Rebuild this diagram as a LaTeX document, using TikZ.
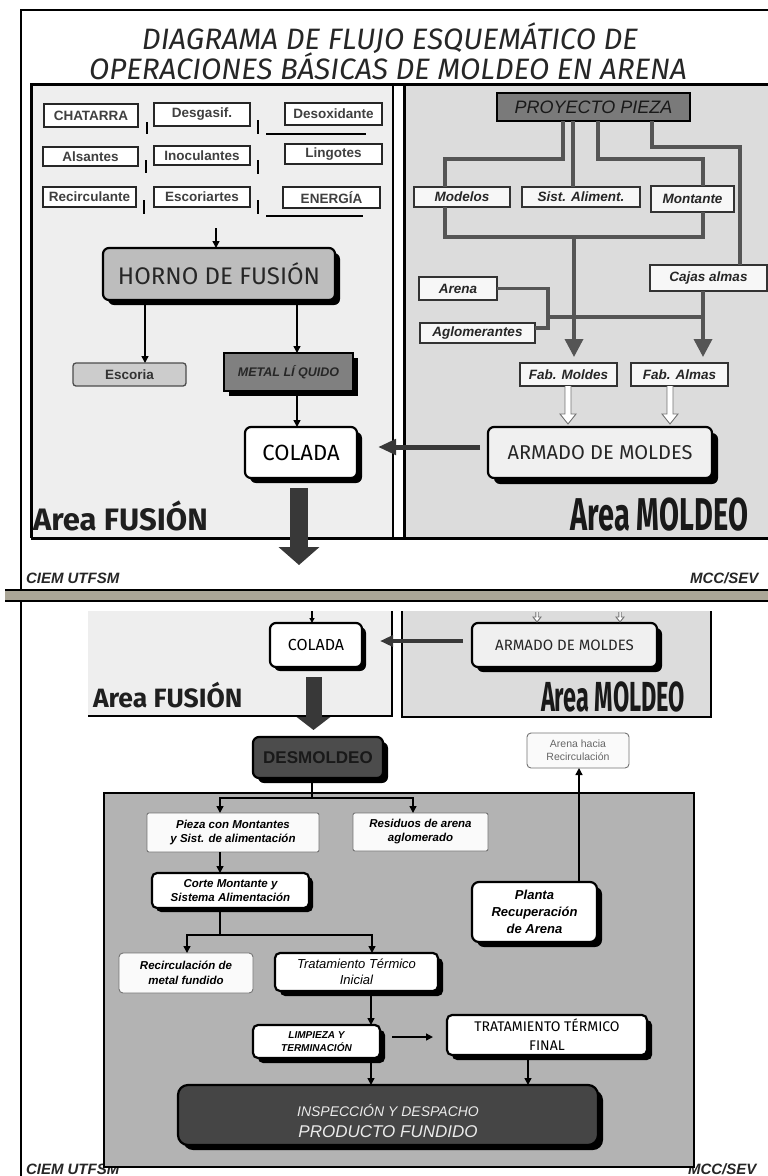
\documentclass[tikz,border=0pt]{standalone}
\usepackage{fontspec}
\usepackage{graphicx}
\setmainfont{Liberation Sans}
\newfontfamily\comic{Fira Sans}
\usetikzlibrary{arrows.meta,shadows,calc}
\definecolor{panelL}{HTML}{EEEEEE}
\definecolor{panelR}{HTML}{DCDCDC}
\definecolor{connc}{HTML}{555555}
\definecolor{bigp}{HTML}{B3B3B3}
\definecolor{bandc}{HTML}{ABA697}
\newcommand{\fsz}[2]{\fontsize{#1}{#2}\selectfont}
\newcommand{\hollowdown}[5]{\draw[hollowst] ($(#1)+(-#3,0)$) -- ($(#2)+(-#3,-#5)$) -- ($(#2)+(-#4,-#5)$) -- (#2) -- ($(#2)+(#4,-#5)$) -- ($(#2)+(#3,-#5)$) -- ($(#1)+(#3,0)$);}
\tikzset{
 every node/.style={inner sep=0pt, outer sep=0pt},
 sbox/.style={draw=black!85, line width=1.3pt, fill=white, font=\bfseries\fsz{13.5}{15}, text=black!75},
 ibox/.style={draw=black!80, line width=1.3pt, fill=black!3, font=\bfseries\itshape\fsz{13.5}{15}, text=black!85},
 shad/.style={drop shadow={shadow xshift=#1, shadow yshift=-#1, fill=black, opacity=1}},
 rbox/.style={rounded corners=6pt, draw=black, line width=2.2pt},
 arr/.style={line width=1.4pt, -{Triangle[width=7pt,length=7pt]}},
 conn/.style={draw=connc, line width=3.5pt},
 connarr/.style={draw=connc, line width=3.5pt, -{Triangle[width=18pt,length=18pt]}, shorten >=6pt},
 thinbox/.style={draw=black!55, line width=0.9pt, fill=black!2, rounded corners=2pt},
 hollowst/.style={draw=black!55, line width=0.9pt, fill=white},
 bigarr/.style={draw=black!78, line width=18pt, -{Triangle[width=40pt,length=18pt]}},
 thickarr/.style={draw=black!78, line width=5pt, -{Triangle[width=15pt,length=18pt]}},
 foot/.style={font=\bfseries\itshape\fsz{15}{15}, text=black!85},
 ttl/.style={font=\comic\itshape\fsz{29.5}{30}, text=black!85},
}
\begin{document}
\begin{tikzpicture}[x=1pt,y=-1pt]
\useasboundingbox (0,0) rectangle (768,1176);
\fill[white] (0,0) rectangle (768,1176);
% ===== top slide =====
\draw[line width=1.5pt] (21,590) -- (21,10) -- (768,10);
\node[ttl] (t1) at (390,38) {DIAGRAMA DE FLUJO ESQUEMÁTICO DE};
\node[ttl] (t2) at (388,66) {OPERACIONES BÁSICAS DE MOLDEO EN ARENA};
\fill[panelL] (31,84) rectangle (393,538);
\fill[panelR] (404,84) rectangle (768,538);
\draw[line width=3pt] (31,538) -- (31,84) -- (768,84);
\draw[line width=3pt] (31,538) -- (768,538);
\draw[line width=2pt] (393,84) -- (393,538);
\draw[line width=3pt] (404,84) -- (404,538);
% inputs
\node[sbox, minimum width=94pt, minimum height=23pt] (chat) at (91,115.5) {CHATARRA};
\node[sbox, minimum width=96pt, minimum height=23pt] (desg) at (202,114.5) {Desgasif.};
\node[sbox, minimum width=97pt, minimum height=22pt] (deso) at (333.5,114) {Desoxidante};
\node[sbox, minimum width=95pt, minimum height=19pt] (alsa) at (90.5,156.5) {Alsantes};
\node[sbox, minimum width=96pt, minimum height=19pt] (inoc) at (202,155.5) {Inoculantes};
\node[sbox, minimum width=97pt, minimum height=20pt] (ling) at (333.5,154) {Lingotes};
\node[sbox, minimum width=93pt, minimum height=20pt] (reci) at (89.5,197) {Recirculante};
\node[sbox, minimum width=96pt, minimum height=20pt] (escr) at (202,197) {Escoriartes};
\node[sbox, minimum width=97pt, minimum height=21pt] (ener) at (331.5,197.5) {ENERGÍA};
\draw[line width=2pt] (147,122) -- (147,134);
\draw[line width=2pt] (258,120) -- (258,134);
\draw[line width=2.2pt] (266,134) -- (366,134);
\draw[line width=2pt] (146,160) -- (146,173);
\draw[line width=2pt] (258,160) -- (258,174);
\draw[line width=2pt] (144,200) -- (144,214);
\draw[line width=2pt] (258,200) -- (258,214);
\draw[line width=2pt] (266,216) -- (363,216);
% furnace
\node[rbox, shad=5pt, fill=black!26, minimum width=232pt, minimum height=52pt, font=\comic\fsz{24}{24}, text=black!85] (horno) at (219,274) {HORNO DE FUSIÓN};
\coordinate (hin) at (216,228);
\draw[arr] (hin) -- (horno.north -| hin);
\node[draw=black!70, line width=1.3pt, fill=black!20, rounded corners=3pt, minimum width=113pt, minimum height=23pt, font=\bfseries\fsz{13.5}{14}, text=black!80] (esc) at (129.5,374.5) {Escoria};
\node[draw=black, line width=1.5pt, fill=black!50, shad=5pt, minimum width=129pt, minimum height=38pt, font=\bfseries\itshape\fsz{12.5}{13}, text=black!85] (metal) at (288.5,372) {METAL LÍ QUIDO};
\node[rbox, shad=5pt, fill=white, minimum width=112pt, minimum height=51pt, font=\comic\fsz{22}{22}] (colada) at (301,452.5) {COLADA};
\draw[arr] (horno.south -| 145,0) -- (esc.north -| 145,0);
\draw[arr] (horno.south -| 297,0) -- (metal.north -| 297,0);
\draw[arr] (metal.south -| 297,0) -- (colada.north -| 297,0);
\coordinate (bt1) at (299,565);
\draw[bigarr] ($(colada.south -| bt1)+(0,10)$) -- (bt1);
\node[anchor=west, font=\comic\bfseries\fsz{31}{31}, text=black!88] (afus) at (33,516) {Area FUSIÓN};
% moulding area
\node[draw=black, line width=1.5pt, fill=black!52, minimum width=193pt, minimum height=28pt, font=\itshape\fsz{18}{18}, text=black!90] (pp) at (593.5,107) {PROYECTO PIEZA};
\node[ibox, minimum width=96pt, minimum height=20pt] (mod) at (462,197) {Modelos};
\node[ibox, minimum width=118pt, minimum height=20pt] (sis) at (581,197) {Sist. Aliment.};
\node[ibox, minimum width=83pt, minimum height=26pt] (mon) at (692.5,199) {Montante};
\node[ibox, minimum width=117pt, minimum height=26pt] (caj) at (708.5,278) {Cajas almas};
\node[ibox, minimum width=78pt, minimum height=23pt] (are) at (458,288.5) {Arena};
\node[ibox, minimum width=115pt, minimum height=20pt] (agl) at (477.5,333) {Aglomerantes};
\node[ibox, minimum width=97pt, minimum height=23pt] (fm) at (568.5,374.5) {Fab. Moldes};
\node[ibox, minimum width=97pt, minimum height=23pt] (fa) at (679.5,374.5) {Fab. Almas};
\node[rbox, shad=6pt, fill=black!6, minimum width=224pt, minimum height=51pt, font=\comic\fsz{20}{20}, text=black!85] (arm) at (600,452.5) {ARMADO DE MOLDES};
\draw[conn] (pp.south -| 563,0) |- (445,159) -- (mod.north -| 445,0);
\draw[conn] (pp.south -| 573,0) -- (sis.north -| 573,0);
\draw[conn] (pp.south -| 598,0) |- (703,159) -- (mon.north -| 703,0);
\draw[conn] (pp.south -| 652,0) |- (740,147) -- (caj.north -| 740,0);
\draw[conn] (mod.south -| 445,0) -- (445,237) -- (703,237) -- (mon.south -| 703,0);
\coordinate (jm) at (574,237);
\draw[connarr] (jm) -- (fm.north -| jm);
\draw[connarr] (caj.south -| 703,0) -- (fa.north -| 703,0);
\draw[conn] (are.east) -| (548,328) -- (agl.east |- 0,328);
\draw[conn] (548,317) -- (703,317);
\coordinate (h1a) at (fm.south -| 568,0);
\coordinate (h1b) at ($(arm.north -| 568,0)+(0,-3)$);
\hollowdown{h1a}{h1b}{3}{8}{10}
\coordinate (h2a) at (fa.south -| 670,0);
\coordinate (h2b) at ($(arm.north -| 670,0)+(0,-3)$);
\hollowdown{h2a}{h2b}{3}{8}{10}
\draw[thickarr, shorten <=8pt, shorten >=21pt] (arm.west |- 0,447) -- (colada.east |- 0,447);
\node[anchor=east, font=\comic\bfseries\fsz{46}{46}, text=black!90] (amol) at (748,515) {\scalebox{0.63}[1]{Area MOLDEO}};
\node[foot, anchor=west] (f1) at (26,578) {CIEM UTFSM};
\node[foot, anchor=west] (f2) at (690,578) {MCC/SEV};
% separator
\fill[bandc] (5,590) rectangle (768,601);
\draw[line width=2pt] (5,590) -- (768,590);
\draw[line width=1.5pt] (5,601) -- (768,601);
% ===== bottom slide =====
\draw[line width=1.5pt] (21,601) -- (21,1176);
\fill[panelL] (88,611) rectangle (392,717);
\fill[panelR] (402,611) rectangle (711,717);
\draw[line width=2.5pt] (88,716) -- (392,716) -- (392,611);
\draw[line width=2.5pt] (402,611) -- (402,717) -- (711,717) -- (711,611);
\node[rbox, shad=4pt, fill=white, minimum width=92pt, minimum height=44pt, font=\comic\fsz{16}{16}] (colada2) at (316,645) {COLADA};
\node[rbox, shad=5pt, fill=black!6, minimum width=185pt, minimum height=44pt, font=\comic\fsz{15}{15}, text=black!85] (arm2) at (564.5,645) {ARMADO DE MOLDES};
\coordinate (c2in) at (312,611);
\draw[line width=1.2pt, -{Triangle[width=5pt,length=5pt]}] (c2in) -- (colada2.north -| c2in);
\coordinate (h3a) at (537,612);
\coordinate (h3b) at ($(arm2.north -| 537,0)+(0,-1)$);
\hollowdown{h3a}{h3b}{1.2}{4}{5}
\coordinate (h4a) at (620,612);
\coordinate (h4b) at ($(arm2.north -| 620,0)+(0,-1)$);
\hollowdown{h4a}{h4b}{1.2}{4}{5}
\draw[draw=black!78, line width=3.5pt, -{Triangle[width=11pt,length=13pt]}, shorten <=9pt, shorten >=18pt] (arm2.west |- 0,641) -- (colada2.east |- 0,641);
\node[anchor=west, font=\comic\bfseries\fsz{26.5}{26.5}, text=black!88] (afus2) at (93,695) {Area FUSIÓN};
\node[anchor=east, font=\comic\bfseries\fsz{42}{42}, text=black!90] (amol2) at (685,697) {\scalebox{0.56}[1]{Area MOLDEO}};
\coordinate (bt2) at (313.5,730);
\draw[draw=black!78, line width=16pt, -{Triangle[width=33pt,length=13pt]}] ($(colada2.south -| bt2)+(0,10)$) -- (bt2);
\node[rbox, shad=5pt, fill=black!70, minimum width=130pt, minimum height=41pt, font=\bfseries\fsz{17}{17}, text=black!90] (desm) at (318,757.5) {DESMOLDEO};
\node[foot, anchor=west] (f3) at (26,1169) {CIEM UTFSM};
\node[foot, anchor=west] (f4) at (688,1169) {MCC/SEV};
\draw[line width=2.5pt, fill=bigp] (104,793) rectangle (694,1167);
\node[thinbox, minimum width=102pt, minimum height=35pt, align=center, font=\fsz{10.5}{13}, text=black!60, rounded corners=4pt] (ahr) at (578,750.5) {Arena hacia\\Recirculación};
\node[thinbox, minimum width=172pt, minimum height=39pt, align=center, font=\bfseries\itshape\fsz{11.5}{14}] (pie) at (233,832.5) {Pieza con Montantes\\y Sist. de alimentación};
\node[thinbox, minimum width=135pt, minimum height=38pt, align=center, font=\bfseries\itshape\fsz{11.5}{14}] (res) at (420.5,832) {Residuos de arena\\aglomerado};
\node[rbox, rounded corners=5pt, shad=4pt, fill=white, minimum width=157pt, minimum height=35pt, align=center, font=\bfseries\itshape\fsz{11.5}{13.5}] (corte) at (230.5,890.5) {Corte Montante y\\Sistema Alimentación};
\node[thinbox, rounded corners=4pt, minimum width=134pt, minimum height=40pt, align=center, font=\bfseries\itshape\fsz{11.5}{15}] (rec) at (186,973) {Recirculación de\\metal fundido};
\node[rbox, rounded corners=5pt, shad=5pt, fill=white, minimum width=163pt, minimum height=38pt, align=center, font=\itshape\fsz{13}{16}] (tti) at (356.5,972) {Tratamiento Térmico\\Inicial};
\node[rbox, rounded corners=5pt, shad=5pt, fill=white, minimum width=127pt, minimum height=33pt, align=center, font=\bfseries\itshape\fsz{10}{13}] (limp) at (316.5,1041.5) {LIMPIEZA Y\\TERMINACIÓN};
\node[rbox, rounded corners=5pt, shad=5pt, fill=white, minimum width=200pt, minimum height=40pt, align=center, font=\comic\fsz{14}{19}] (ttf) at (547,1035) {TRATAMIENTO TÉRMICO\\FINAL};
\node[rbox, rounded corners=10pt, shad=5pt, fill=black!73, minimum width=420pt, minimum height=60pt, align=center, text=white!92!black, font=\itshape\fsz{17}{21}] (insp) at (388,1115) {\rule{0pt}{24pt}{\fsz{14}{21}INSPECCIÓN Y DESPACHO}\\PRODUCTO FUNDIDO};
\node[rbox, rounded corners=7pt, shad=5pt, fill=white, minimum width=125pt, minimum height=60pt, align=center, font=\bfseries\itshape\fsz{13}{17}] (pla) at (534.5,912) {Planta\\Recuperación\\de Arena};
% connectors bottom
\coordinate (dj) at (312,798);
\draw[line width=1.4pt] (desm.south -| dj) -- (dj);
\draw[arr] (dj) -| (pie.north -| 220,0);
\draw[arr] (dj) -| (res.north -| 413,0);
\draw[arr] (pie.south -| 220,0) -- (corte.north -| 220,0);
\coordinate (cj) at (220,935);
\draw[line width=1.4pt] (corte.south -| cj) -- (cj);
\draw[arr] (cj) -| (rec.north -| 187,0);
\draw[arr] (cj) -| (tti.north -| 372,0);
\draw[arr] (tti.south -| 371,0) -- (limp.north -| 371,0);
\draw[arr, shorten <=12pt, shorten >=14pt] (limp.east |- 0,1037) -- (ttf.west |- 0,1037);
\draw[arr] (limp.south -| 371,0) -- (insp.north -| 371,0);
\draw[arr] (ttf.south -| 528,0) -- (insp.north -| 528,0);
\draw[arr] (pla.north -| 579,0) -- (ahr.south -| 579,0);
\end{tikzpicture}
\end{document}
